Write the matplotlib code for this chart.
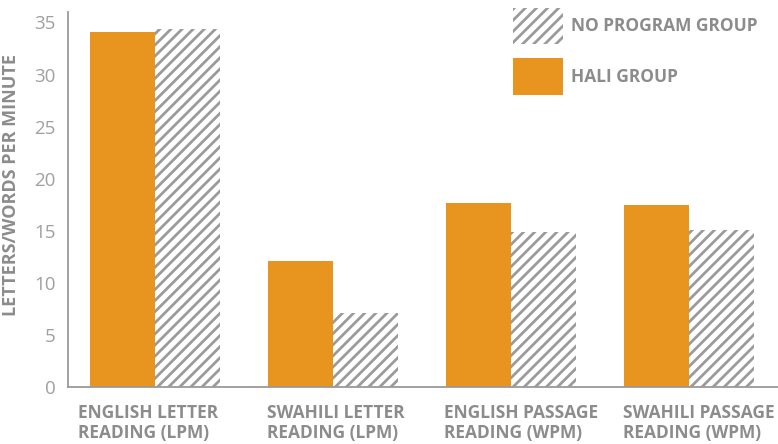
import numpy as np
import matplotlib.pyplot as plt
import matplotlib.transforms as mtransforms
from matplotlib.patches import Patch

# Reading fluency results by group
categories = ["ENGLISH LETTER\nREADING (LPM)", "SWAHILI LETTER\nREADING (LPM)",
              "ENGLISH PASSAGE\nREADING (WPM)", "SWAHILI PASSAGE\nREADING (WPM)"]
hali_group = [34.1, 12.1, 17.7, 17.5]
no_program_group = [34.4, 7.1, 14.9, 15.1]
y_ticks = [0, 5, 10, 15, 20, 25, 30, 35]

orange = "#E8951F"
stripe = "#9b9b9b"
text_grey = "#8c8c8c"

plt.rcParams['font.family'] = ['Open Sans', 'DejaVu Sans']
plt.rcParams['hatch.linewidth'] = 2.0

fig = plt.figure(figsize=(7.78, 4.44), dpi=100)
ax = fig.add_axes([68 / 778, 1 - 387 / 444, 710 / 778, 375 / 444])

x = np.arange(len(categories))
w = 0.365
ax.bar(x - w / 2, hali_group, w, color=orange, linewidth=0)
ax.bar(x + w / 2, no_program_group, w, color="white", edgecolor=stripe,
       hatch="///", linewidth=0)

ax.set_xlim(-0.49, 3.5)
ax.set_ylim(0, 36)
ax.set_yticks(y_ticks)
ax.set_xticks(x)
ax.set_xticklabels(categories, fontsize=12.5, fontweight="bold", color=text_grey,
                   linespacing=1.2, multialignment="left")
ax.tick_params(axis="x", length=0, pad=12)
ax.tick_params(axis="y", length=0, pad=9, labelsize=13.5, labelcolor="#a0a0a0")

# nudge the category labels sideways (points)
for lbl, dx in zip(ax.get_xticklabels(), [-5, 2, 7, 7]):
    offset = mtransforms.ScaledTranslation(dx / 72, 0, fig.dpi_scale_trans)
    lbl.set_transform(lbl.get_transform() + offset)

for side in ("top", "right"):
    ax.spines[side].set_visible(False)
for side in ("left", "bottom"):
    ax.spines[side].set_color("#9a9a9a")
    ax.spines[side].set_linewidth(1.3)

ax.set_ylabel("LETTERS/WORDS PER MINUTE", fontsize=13, fontweight="bold",
              color=text_grey)
ax.yaxis.set_label_coords(-0.068, 0.54)

handles = [Patch(facecolor="white", edgecolor=stripe, hatch="///", linewidth=0),
           Patch(facecolor=orange, linewidth=0)]
leg = fig.legend(handles, ["NO PROGRAM GROUP", "HALI GROUP"],
                 loc="upper left", bbox_to_anchor=(513 / 778, 1 - 8 / 444),
                 frameon=False, borderpad=0, borderaxespad=0,
                 handlelength=2.9, handleheight=2.85, labelspacing=0.8,
                 handletextpad=0.45, prop={"family": "Open Sans", "weight": "bold",
                                           "size": 12.5})
for t in leg.get_texts():
    t.set_color(text_grey)

fig.savefig("out.png", dpi=100)
